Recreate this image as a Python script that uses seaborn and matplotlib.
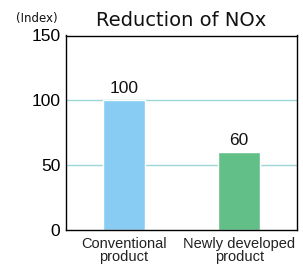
import matplotlib
matplotlib.use("Agg")
import matplotlib.pyplot as plt
import seaborn as sns
import pandas as pd

categories = ["Conventional\nproduct", "Newly developed\nproduct"]
values = [100, 60]
colors = ["#88CCF4", "#62BF88"]
yticks = [0, 50, 100, 150]

sns.set_theme(style="white")
plt.rcParams['font.family'] = ['Liberation Sans', 'DejaVu Sans']

df = pd.DataFrame({"cat": categories, "val": values})

fig = plt.figure(figsize=(3.03, 2.64), dpi=100)
ax = fig.add_axes([66/303, 1-230/264, (297-66)/303, (230-35.5)/264])
sns.barplot(data=df, x="cat", y="val", hue="cat", palette=colors, width=0.36,
            legend=False, ax=ax, saturation=1)
ax.set_ylim(0, 150)
ax.set_xlim(-0.5, 1.5)
ax.set_yticks(yticks)
for y in [50, 100]:
    ax.axhline(y, color="#9ED6D6", lw=1, zorder=0)
ax.set_axisbelow(True)
for s in ax.spines.values():
    s.set_color("black")
    s.set_linewidth(1)
ax.tick_params(axis="y", length=0, pad=4, labelsize=12.5, colors="black")
ax.tick_params(axis="x", length=0, pad=5, colors="#222222")
for lab in ax.get_xticklabels():
    lab.set_fontsize(10.5)
    lab.set_linespacing(0.9)
ax.set_xlabel("")
ax.set_ylabel("")
for c in ax.containers:
    ax.bar_label(c, fmt="%d", fontsize=12.5, padding=3, color="#111111")
ax.set_title("Reduction of NOx", fontsize=14, pad=7, color="#111111",
             family=["DejaVu Sans"])
fig.text(16/303, 1-22/264, "(Index)", fontsize=8.5, color="#111111",
         va="baseline", family=["DejaVu Sans"])
fig.savefig("out.png", dpi=100)
